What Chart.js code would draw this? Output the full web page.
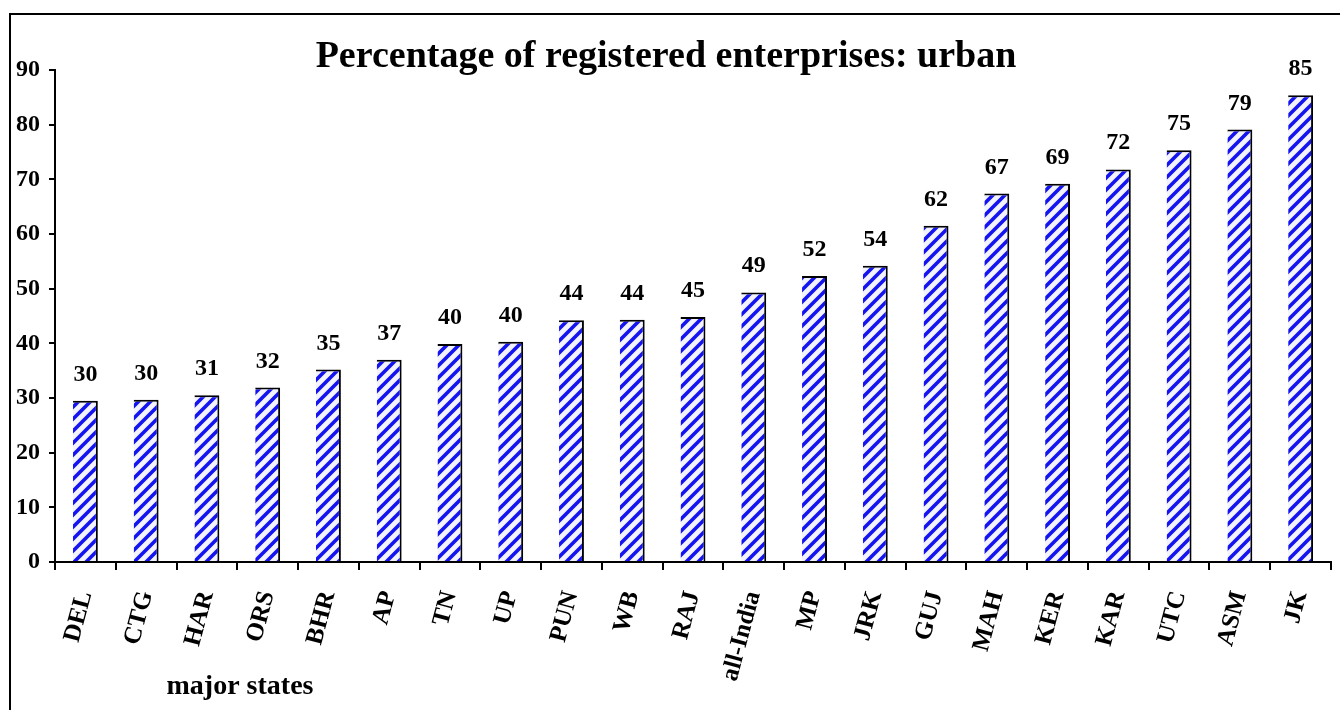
<!DOCTYPE html>
<html lang="en">
<head>
  <meta charset="UTF-8" />
  <title>Registered enterprises: urban</title>
  <script src="https://cdn.jsdelivr.net/npm/chart.js"></script>
  <style>
    body {
      margin: 0;
      background: #fff;
      overflow: hidden;
    }
    #frame {
      position: absolute;
      left: 9px;
      top: 13px;
      width: 1400px;
      height: 800px;
      border: 2px solid #000;
    }
    #wrap {
      position: absolute;
      left: 0;
      top: 0;
      width: 1340px;
      height: 710px;
    }
  </style>
</head>
<body>
  <div id="frame"></div>
  <div id="wrap"><canvas id="barUrban" width="1340" height="710"></canvas></div>

  <script>
    // data
    const states = ['DEL', 'CTG', 'HAR', 'ORS', 'BHR', 'AP', 'TN', 'UP', 'PUN', 'WB', 'RAJ',
      'all-India', 'MP', 'JRK', 'GUJ', 'MAH', 'KER', 'KAR', 'UTC', 'ASM', 'JK']
    const pctRegistered = [29.5, 29.7, 30.5, 31.9, 35.2, 37.0, 39.9, 40.3, 44.2, 44.3, 44.8,
      49.3, 52.3, 54.2, 61.5, 67.4, 69.2, 71.8, 75.3, 79.1, 85.4]
    const yMax = 90
    const yStep = 10

    const chartTitle = 'Percentage of registered enterprises: urban'
    const xTitle = 'major states'
    const serif = '"Times New Roman", "Liberation Serif", serif'

    // blue diagonal hatch
    function makeHatch() {
      const c = document.createElement('canvas')
      c.width = 12
      c.height = 12
      const g = c.getContext('2d')
      g.fillStyle = '#f3f3ff'
      g.fillRect(0, 0, 12, 12)
      g.strokeStyle = '#1414f0'
      g.lineWidth = 3.6
      g.beginPath()
      g.moveTo(-3, 15); g.lineTo(15, -3)
      g.moveTo(-3, 3); g.lineTo(3, -3)
      g.moveTo(9, 15); g.lineTo(15, 9)
      g.stroke()
      return g.createPattern(c, 'repeat')
    }

    const valueLabels = {
      id: 'valueLabels',
      afterDatasetsDraw(chart) {
        const ctx = chart.ctx
        const meta = chart.getDatasetMeta(0)
        ctx.save()
        ctx.fillStyle = '#000'
        ctx.font = `bold 24px ${serif}`
        ctx.textAlign = 'center'
        ctx.textBaseline = 'alphabetic'
        meta.data.forEach((bar, i) => {
          ctx.fillText(Math.round(pctRegistered[i]), bar.x, bar.y - 20)
        })
        ctx.restore()
      }
    }

    const textBits = {
      id: 'textBits',
      afterDraw(chart) {
        const ctx = chart.ctx
        ctx.save()
        ctx.fillStyle = '#000'
        ctx.textAlign = 'center'
        ctx.textBaseline = 'alphabetic'
        ctx.font = `bold 38px ${serif}`
        ctx.fillText(chartTitle, 666, 67)
        ctx.font = `bold 28px ${serif}`
        ctx.fillText(xTitle, 240, 694)
        ctx.restore()
      }
    }

    new Chart(document.getElementById('barUrban'), {
      type: 'bar',
      data: {
        labels: states,
        datasets: [{
          data: pctRegistered,
          backgroundColor: makeHatch(),
          borderColor: '#000',
          borderWidth: { top: 2, right: 2, bottom: 0, left: 0 },
          borderSkipped: false,
          barPercentage: 0.41,
          categoryPercentage: 1.0
        }]
      },
      options: {
        responsive: false,
        animation: false,
        layout: { padding: { top: 70, right: 9, left: 0, bottom: 0 } },
        plugins: {
          legend: { display: false },
          tooltip: { enabled: false },
          title: { display: false }
        },
        scales: {
          x: {
            grid: { drawOnChartArea: false, drawTicks: true, tickLength: 8, color: '#000', lineWidth: 2, offset: true },
            border: { display: true, color: '#000', width: 2 },
            ticks: {
              autoSkip: false, minRotation: 75, maxRotation: 75, padding: 18,
              color: '#000', font: { family: serif, weight: 'bold', size: 25 }
            },
            afterFit: s => {
              s.height = 148
              s.paddingLeft = 0
              s.paddingRight = 0
            }
          },
          y: {
            min: 0,
            max: yMax,
            grid: { drawOnChartArea: false, drawTicks: true, tickLength: 6, color: '#000', lineWidth: 2 },
            border: { display: true, color: '#000', width: 2 },
            ticks: { stepSize: yStep, padding: 9, color: '#000', font: { family: serif, weight: 'bold', size: 24 } },
            afterFit: s => { s.width = 55 }
          }
        }
      },
      plugins: [valueLabels, textBits]
    })
  </script>
</body>
</html>
